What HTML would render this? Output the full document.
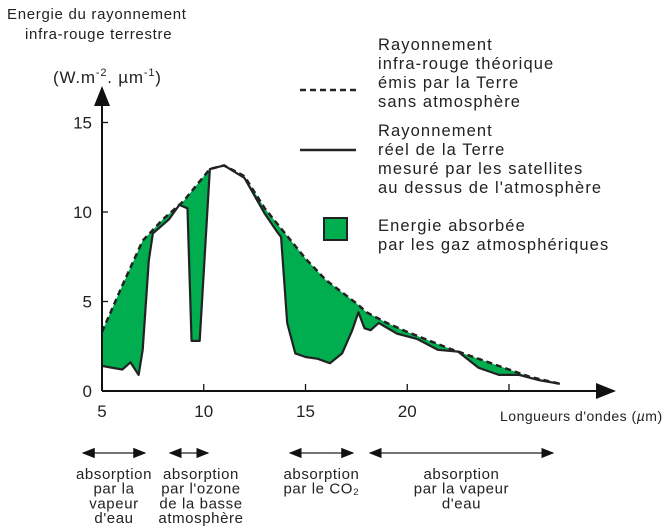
<!DOCTYPE html>
<html><head><meta charset="utf-8"><style>
body{margin:0;background:#fff}
svg{display:block;font-family:"Liberation Sans",sans-serif}
</style></head><body>
<svg width="671" height="530" viewBox="0 0 671 530">
<defs><marker id="ah" markerWidth="10" markerHeight="8" refX="9" refY="4" orient="auto"><path d="M0,0L10,4L0,8z" fill="#111"/></marker></defs>
<text x="7" y="19" font-size="15" letter-spacing="0.7" fill="#222">Energie du rayonnement</text>
<text x="25" y="39" font-size="15" letter-spacing="0.7" fill="#222">infra-rouge terrestre</text>
<text x="53" y="83" font-size="17" letter-spacing="0.8" fill="#222">(W.m<tspan font-size="11" dy="-7">-2</tspan><tspan dy="7">. µm</tspan><tspan font-size="11" dy="-7">-1</tspan><tspan dy="7">)</tspan></text>
<g id="plot"></g>
<text x="500" y="421" font-size="14" letter-spacing="0.5" fill="#222">Longueurs d'ondes (<tspan font-style="italic">µ</tspan>m)</text>
<g>
<line x1="300" y1="90" x2="356" y2="90" stroke="#222" stroke-width="2.5" stroke-dasharray="6,4"/>
<text font-size="16.5" letter-spacing="1.1" fill="#222"><tspan x="378" y="50">Rayonnement</tspan><tspan x="378" y="69">infra-rouge théorique</tspan><tspan x="378" y="88">émis par la Terre</tspan><tspan x="378" y="107">sans atmosphère</tspan></text>
<line x1="300" y1="150" x2="356" y2="150" stroke="#222" stroke-width="2.5"/>
<text font-size="16.5" letter-spacing="1.1" fill="#222"><tspan x="378" y="136">Rayonnement</tspan><tspan x="378" y="155">réel de la Terre</tspan><tspan x="378" y="174">mesuré par les satellites</tspan><tspan x="378" y="193">au dessus de l'atmosphère</tspan></text>
<rect x="324" y="218" width="23" height="22" fill="#00ad4f" stroke="#222" stroke-width="2"/>
<text font-size="16.5" letter-spacing="1.1" fill="#222"><tspan x="378" y="231">Energie absorbée</tspan><tspan x="378" y="250">par les gaz atmosphériques</tspan></text>
</g>
<g id="bands"></g>
</svg>
<script>
const theoX=[5,6,7,8,9,10.3,11,12,13,14,15,16,17.5,18,19,20,21,22,23,24,25,26,27.5];
const theoY=[3.3,5.9,8.4,9.6,10.6,12.4,12.6,12.0,10.2,8.8,7.4,6.2,4.9,4.4,3.8,3.3,2.85,2.4,2.0,1.6,1.2,0.8,0.4];
const measX=[5,5.5,6,6.4,6.8,7,7.3,7.5,8.3,8.8,9.2,9.4,9.8,10.3,11,12,13,13.6,13.8,14.1,14.5,15,15.6,16.2,16.8,17.3,17.6,17.9,18.2,18.6,19.5,20.5,21.5,22.5,23.5,24.5,25.5,26.5,27.5];
const measY=[1.4,1.3,1.2,1.6,0.9,2.3,7.3,8.8,9.6,10.4,10.2,2.8,2.8,12.4,12.6,11.9,9.9,8.9,8.6,3.8,2.1,1.9,1.8,1.55,2.1,3.4,4.4,3.5,3.4,3.8,3.2,2.9,2.3,2.2,1.3,0.9,0.9,0.6,0.4];
const xTicks=[5,10,15,20,25];
const xTickLabels=["5","10","15","20",""];
const yTicks=[0,5,10,15];
const bandStart=[4.07,8.34,14.24,18.17];
const bandEnd=[7.11,10.21,17.33,27.16];
const bandLabels=[["absorption","par la","vapeur","d'eau"],["absorption","par l'ozone","de la basse","atmosphère"],["absorption","par le CO₂"],["absorption","par la vapeur","d'eau"]];

const NS="http://www.w3.org/2000/svg";
const sx=v=>102+(v-5)*20.35;
const sy=v=>391-v*17.9;
const plot=document.getElementById('plot');
function mk(tag,attrs,parent){const e=document.createElementNS(NS,tag);for(const k in attrs)e.setAttribute(k,attrs[k]);(parent||plot).appendChild(e);return e;}

const theoPts=theoX.map((x,i)=>sx(x)+','+sy(theoY[i]));
const measPts=measX.map((x,i)=>sx(x)+','+sy(measY[i]));
const fill=mk('polygon',{points:theoPts.concat(measPts.slice().reverse()).join(' '),fill:'#00ad4f'});


const ml=mk('polyline',{points:measPts.join(' '),fill:'none',stroke:'#222','stroke-width':2.2,'stroke-linejoin':'round'});


const tl=mk('polyline',{points:theoPts.join(' '),fill:'none',stroke:'#222','stroke-width':2.5,'stroke-dasharray':'6,4'});



const xa=mk('line',{x1:102,y1:391,x2:614,y2:391,stroke:'#111','stroke-width':2,'marker-end':'url(#ah)'});


const ya=mk('line',{x1:102,y1:391,x2:102,y2:88,stroke:'#111','stroke-width':2,'marker-end':'url(#ah)'});


xTicks.forEach((v,i)=>{
  const t=mk('line',{x1:sx(v),y1:391,x2:sx(v),y2:384,stroke:'#111','stroke-width':1.3});
  
  
  const l=mk('text',{x:sx(v),y:417,'font-size':17,'text-anchor':'middle',fill:'#222'});
  l.textContent=xTickLabels[i];
  
  
});
yTicks.forEach(v=>{
  const t=mk('line',{x1:102,y1:sy(v),x2:108,y2:sy(v),stroke:'#111','stroke-width':1.3});
  
  
  const l=mk('text',{x:92,y:sy(v)+6,'font-size':17,'text-anchor':'end',fill:'#222'});
  l.textContent=String(v);
  
  
});
const bands=document.getElementById('bands');
bandStart.forEach((s,i)=>{
  const x1=sx(s),x2=sx(bandEnd[i]),m=(x1+x2)/2;
  const a=mk('line',{x1:m,y1:453,x2:x1,y2:453,stroke:'#222','stroke-width':1.3,'marker-end':'url(#ah)'},bands);
  
  
  const b=mk('line',{x1:m,y1:453,x2:x2,y2:453,stroke:'#222','stroke-width':1.3,'marker-end':'url(#ah)'},bands);
  
  
  const t=mk('text',{'font-size':15,'letter-spacing':0.6,'text-anchor':'middle',fill:'#222'},bands);
  
  
  const cx=i==1?m+12:m;
  bandLabels[i].forEach((line,j)=>{const ts=mk('tspan',{x:cx,y:479+j*14.7},t);ts.textContent=line;});
});
</script>
</body></html>
